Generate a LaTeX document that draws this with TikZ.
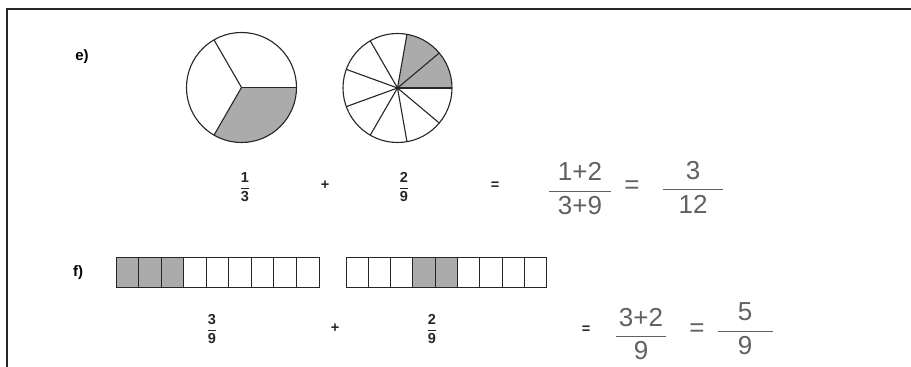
\documentclass[tikz,border=0pt]{standalone}
\usepackage{amsmath}
\usepackage{fontspec}
\setmainfont{Liberation Sans}
\newcommand\prfrac[2]{$\displaystyle\genfrac{}{}{0.4pt}{0}{\hbox{#1}}{\hbox{#2}}$}
\newcommand\hdfrac[3]{$\displaystyle\genfrac{}{}{1.4pt}{0}{\hbox to #1{\hss#2\hss}}{\hbox{#3}}$}
\begin{document}
\begin{tikzpicture}[x=1pt,y=1pt,
  rim/.style={line width=2pt, black!85},
  pie/.style={line width=1.1pt, black!85},
  shadefill/.style={fill=black!33},
  cell/.style={draw=black!85, line width=1pt},
  lab/.style={font=\fontsize{15}{17}\selectfont\bfseries, inner sep=0},
  prn/.style={font=\fontsize{14.5}{16}\selectfont\bfseries, text=black!85, inner sep=0},
  hand/.style={font=\fontsize{26}{28}\selectfont, text=black!62, inner sep=0},
]
\useasboundingbox (0,0) rectangle (911,367);
\fill[white] (0,0) rectangle (911,367);
% frame
\coordinate (tr) at (911,357.5);
\coordinate (tl) at (7,357.5);
\coordinate (bl) at (7,0);
\draw[rim] (tr) -- (tl) -- (bl);

% labels
\node[lab] (le) at (82,310) {e)};
\node[lab] (lf) at (78,94) {f)};

% circle 1 (thirds)
\coordinate (c1) at (241.5,279.5);
\fill[shadefill] (c1) -- ++(240:55) arc[start angle=240, end angle=360, radius=55] -- cycle;
\foreach \a in {0,120,240} \draw[pie] (c1) -- ++(\a:55);
\draw[pie] (c1) circle[radius=55];

% circle 2 (ninths)
\coordinate (c2) at (397.5,279);
\fill[shadefill] (c2) -- ++(0:54.5) arc[start angle=0, end angle=80, radius=54.5] -- cycle;
\foreach \a in {0,40,...,320} \draw[pie] (c2) -- ++(\a:54.5);
\draw[pie] (c2) circle[radius=54.5];

% row e printed
\node[prn] (e1) at (245,180) {\prfrac{1}{3}};
\node[prn] (ep) at (325,182) {+};
\node[prn] (e2) at (404,180) {\prfrac{2}{9}};
\node[prn] (eq) at (495,181) {=};
% row e handwritten
\node[hand] (eh1) at (580,178) {\hdfrac{62pt}{1+2}{3+9}};
\node[hand] (eheq) at (632,180) {=};
\node[hand] (eh2) at (693,180) {\hdfrac{60pt}{3}{12}};

% bars
\foreach \i in {0,...,8} {
  \pgfmathsetmacro\xa{116+\i*22.56}
  \pgfmathsetmacro\xb{116+(\i+1)*22.56}
  \ifnum\i<3 \fill[shadefill] (\xa,79) rectangle (\xb,109); \fi
  \draw[cell] (\xa,79) rectangle (\xb,109);
}
\foreach \i in {0,...,8} {
  \pgfmathsetmacro\xa{346+\i*22.33}
  \pgfmathsetmacro\xb{346+(\i+1)*22.33}
  \ifnum\i=3 \fill[shadefill] (\xa,79) rectangle (\xb,109); \fi
  \ifnum\i=4 \fill[shadefill] (\xa,79) rectangle (\xb,109); \fi
  \draw[cell] (\xa,79) rectangle (\xb,109);
}

% row f printed
\node[prn] (f1) at (212,38) {\prfrac{3}{9}};
\node[prn] (fp) at (335,39) {+};
\node[prn] (f2) at (432,38) {\prfrac{2}{9}};
\node[prn] (fq) at (586,37) {=};
% row f handwritten
\node[hand] (fh1) at (641,33) {\hdfrac{50pt}{3+2}{9}};
\node[hand] (fheq) at (697,37) {=};
\node[hand] (fh2) at (745,38) {\hdfrac{55pt}{5}{9}};
\end{tikzpicture}
\end{document}
